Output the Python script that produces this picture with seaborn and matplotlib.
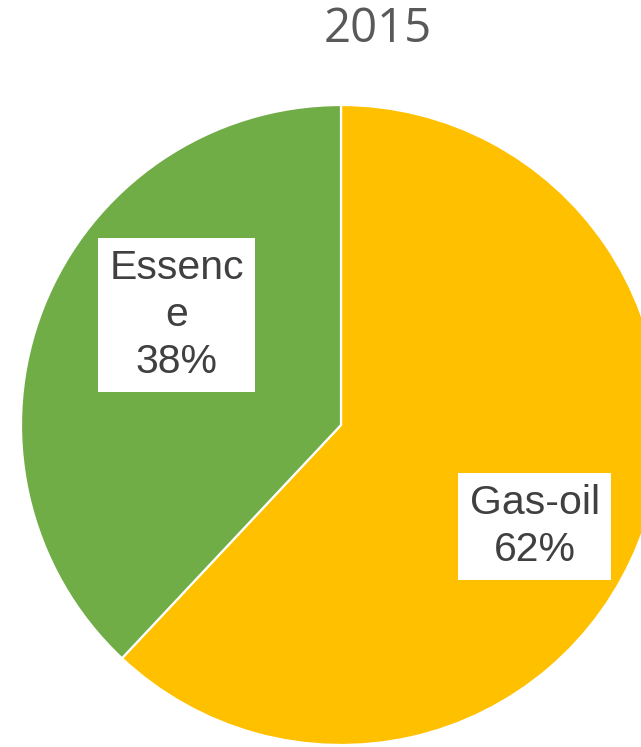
import matplotlib
matplotlib.use("Agg")
import matplotlib.pyplot as plt
import seaborn as sns

sns.set_style("white")
plt.rcParams['font.family'] = ['Liberation Sans', 'DejaVu Sans']

title = "2015"
categories = ["Gas-oil", "Essence"]
label_texts = ["Gas-oil\n62%", "Essenc\ne\n38%"]
values = [62, 38]
colors = ["#FFC000", "#70AD47"]
label_pos = [(0.605, -0.316), (-0.514, 0.344)]

fig = plt.figure(figsize=(6.41, 7.47), dpi=100)
ax = fig.add_axes([0, 0, 1, 1])
ax.pie(values, colors=colors, startangle=90, counterclock=False,
       radius=1.0, center=(0, 0),
       wedgeprops=dict(edgecolor="white", linewidth=1.6))
ax.set_xlim(-341/320, 300/320)
ax.set_ylim(-322/320, 425/320)
ax.set_aspect('equal', adjustable='box')
ax.axis('off')

for txt, (x, y) in zip(label_texts, label_pos):
    ax.text(x, y, txt, ha='center', va='center', multialignment='center',
            fontsize=29.5, color='#404040', linespacing=1.3,
            bbox=dict(boxstyle='square,pad=0.27', facecolor='white', edgecolor='none'))

fig.text(378/641, 1 - 29/747, title, ha='center', va='center',
         fontsize=34, color='#595959', family=['Open Sans', 'DejaVu Sans'])

fig.savefig("out.png", dpi=100)
